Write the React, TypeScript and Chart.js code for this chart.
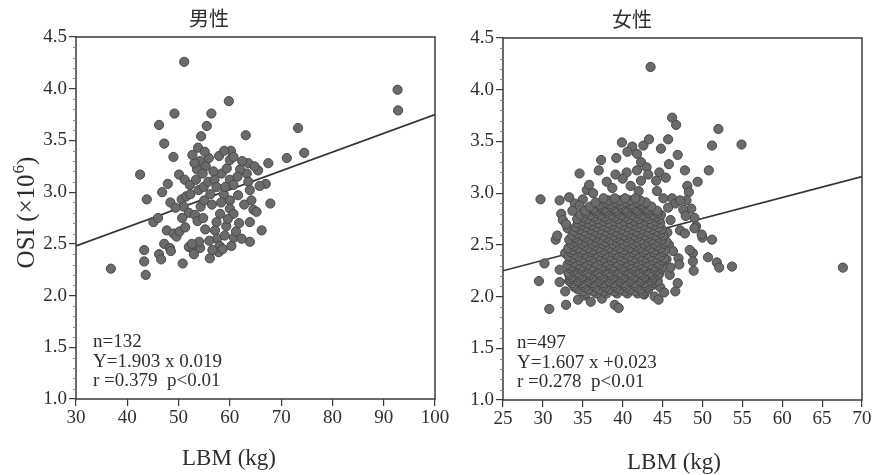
import React, { useEffect, useRef } from "react";
import { Chart, registerables } from "chart.js";
Chart.register(...registerables);

// ---------- data ----------
const titles = ["男性", "女性"];
const xAxisLabel = "LBM (kg)";
const yAxisLabelMain = "OSI (×10";
const yAxisLabelSup = "6";
const yRange = [1.0, 4.5];
const yStep = 0.5;
const menXRange = [30, 100];
const menXStep = 10;
const womenXRange = [25, 70];
const womenXStep = 5;

const menStats = ["n=132", "Y=1.903 x 0.019", "r =0.379  p<0.01"];
const womenStats = ["n=497", "Y=1.607 x +0.023", "r =0.278  p<0.01"];

const menLine: [number, number][] = [[30, 2.48], [100, 3.75]];
const womenLine: [number, number][] = [[25, 2.25], [70, 3.16]];

const menPoints: [number, number][] = [
  [36.8, 2.26], [42.5, 3.17], [43.3, 2.44], [43.3, 2.33], [43.6, 2.2], [43.8, 2.93],
  [45.1, 2.71], [46.0, 2.75], [46.2, 2.4], [46.6, 2.35], [46.2, 3.65], [46.8, 3.0],
  [47.2, 3.47], [47.2, 2.5], [47.7, 2.63], [48.3, 2.46], [48.5, 2.43], [49.0, 2.6],
  [49.6, 2.57], [49.0, 3.34], [49.2, 3.76], [50.1, 3.17], [50.8, 2.31], [51.1, 4.26],
  [51.2, 3.12], [52.2, 3.07], [50.6, 2.93], [51.5, 2.96], [52.3, 2.98], [51.0, 2.86],
  [52.0, 2.8], [53.2, 2.78], [54.3, 2.86], [53.7, 2.72], [54.8, 2.75], [55.0, 2.92],
  [53.9, 3.02], [54.9, 3.05], [55.8, 3.1], [53.6, 3.22], [54.2, 3.3], [55.3, 3.25],
  [54.7, 3.18], [53.1, 3.28], [55.9, 3.33], [52.0, 2.47], [52.9, 2.44], [53.5, 2.49],
  [54.2, 2.46], [53.0, 2.4], [54.0, 2.52], [52.6, 2.5], [56.1, 2.36], [55.2, 2.64],
  [53.8, 3.43], [55.1, 3.39], [54.4, 3.54], [55.5, 3.64], [56.4, 3.76], [59.8, 3.88],
  [60.2, 3.4], [58.4, 3.18], [59.4, 3.23], [60.0, 3.31], [60.7, 3.34], [60.0, 3.12],
  [60.7, 3.07], [61.6, 2.97], [60.0, 2.92], [60.0, 2.84], [60.7, 2.79], [58.1, 2.79],
  [57.4, 2.71], [57.1, 2.63], [63.1, 3.55], [63.6, 3.28], [63.3, 3.18], [63.6, 3.1],
  [63.9, 3.02], [64.2, 2.92], [64.6, 2.83], [65.2, 2.81], [63.9, 2.71], [65.5, 3.21],
  [66.2, 2.63], [63.9, 2.52], [67.5, 3.28], [67.0, 3.08], [67.9, 2.89], [71.1, 3.33],
  [73.3, 3.62], [74.5, 3.38], [92.7, 3.99], [92.8, 3.79], [57.5, 2.55], [58.0, 2.48],
  [57.8, 2.42], [58.6, 2.45], [59.0, 2.58], [60.3, 2.48], [60.8, 2.56], [61.2, 2.62],
  [59.3, 2.67], [56.6, 2.44], [57.0, 3.12], [56.8, 3.2], [57.4, 3.05], [56.2, 2.98],
  [56.5, 2.88], [58.8, 2.98], [59.1, 3.05], [58.3, 2.9], [62.0, 3.22], [62.4, 3.3],
  [61.8, 2.7], [62.8, 2.88], [57.9, 3.35], [58.9, 3.4], [61.5, 3.15], [50.2, 2.62],
  [51.3, 2.66], [50.7, 2.75], [48.4, 2.9], [49.4, 2.85], [47.9, 3.08], [53.4, 3.12],
  [52.7, 3.36], [64.8, 3.25], [65.8, 3.06], [62.3, 2.55], [59.6, 2.74], [56.0, 2.53],
];

const womenOuterPoints: [number, number][] = [
  // sparse upper points
  [43.5, 4.22], [46.2, 3.73], [46.7, 3.66], [52.0, 3.62], [54.9, 3.47], [51.2, 3.46],
  [39.9, 3.49], [41.2, 3.45], [40.6, 3.4], [41.8, 3.38], [42.6, 3.46], [43.3, 3.52],
  [45.7, 3.52], [44.8, 3.43], [46.9, 3.37], [39.2, 3.34], [37.3, 3.32], [42.3, 3.3],
  [43.0, 3.25], [50.8, 3.22], [47.8, 3.22], [45.8, 3.28], [34.6, 3.19], [37.0, 3.22],
  [40.5, 3.2], [41.8, 3.22], [43.2, 3.18], [44.6, 3.2], [45.4, 3.15], [44.2, 3.12],
  [49.4, 3.11], [48.1, 3.07], [48.3, 3.01], [29.7, 2.94], [32.1, 2.93], [35.5, 3.03],
  [38.0, 3.11], [36.3, 3.0], [38.7, 3.05], [41.0, 3.07], [42.0, 3.02], [40.0, 3.14],
  [39.1, 3.18], [42.3, 3.12], [34.0, 2.9], [35.0, 2.94], [33.3, 2.96], [35.8, 3.08],
  [44.3, 3.02], [45.1, 2.95], [46.2, 2.95], [46.6, 2.9],
  // edges
  [32.3, 2.8], [32.5, 2.74], [33.7, 2.83], [34.6, 2.88], [31.6, 2.55], [31.8, 2.59],
  [30.2, 2.32], [29.5, 2.15], [30.8, 1.88], [32.9, 1.92], [34.4, 1.97], [36.0, 1.95],
  [37.4, 1.98], [39.0, 1.92], [39.5, 1.89], [42.7, 2.02], [44.0, 2.0], [44.5, 1.97],
  [44.7, 2.09], [45.2, 2.04], [45.9, 2.21], [46.6, 2.05], [46.9, 2.13], [47.0, 2.37],
  [47.1, 2.31], [48.9, 2.25], [48.8, 2.42], [48.8, 2.34], [50.0, 2.57], [51.2, 2.55],
  [50.7, 2.38], [51.8, 2.33], [52.1, 2.28], [53.7, 2.29], [67.6, 2.28], [32.1, 2.26],
  [32.1, 2.14], [32.8, 2.05], [32.8, 2.42], [48.0, 2.93], [48.6, 2.85], [49.0, 2.76],
  [49.2, 2.68], [49.9, 2.6], [48.4, 2.45], [35.2, 2.01], [47.2, 2.93], [47.6, 2.84],
  [47.9, 2.78], [47.2, 2.64], [47.8, 2.61], [49.0, 2.66], [45.6, 2.62], [46.0, 2.74],
  [45.8, 2.5], [46.3, 2.44], [45.5, 2.36], [46.0, 2.28], [45.7, 2.86], [33.1, 2.66],
  [32.9, 2.7],
];

const womenCorePoints: [number, number][] = [
  [35.4, 2.03], [36.7, 2.03], [38.0, 2.03], [39.3, 2.03], [40.6, 2.03], [41.9, 2.03], [42.6, 2.03],
  [35.0, 2.05], [36.4, 2.05], [37.7, 2.05], [39.0, 2.05], [40.3, 2.05], [41.6, 2.05], [42.8, 2.05],
  [34.4, 2.07], [35.7, 2.07], [37.0, 2.07], [38.3, 2.07], [39.6, 2.07], [40.9, 2.07], [42.2, 2.07], [43.2, 2.07],
  [34.0, 2.09], [35.3, 2.09], [36.6, 2.09], [37.9, 2.09], [39.2, 2.09], [40.5, 2.09], [41.8, 2.09], [43.1, 2.09],
  [33.8, 2.11], [35.0, 2.11], [36.3, 2.11], [37.6, 2.11], [38.9, 2.11], [40.2, 2.11], [41.5, 2.11], [42.8, 2.11], [43.7, 2.11],
  [33.6, 2.13], [34.9, 2.13], [36.2, 2.13], [37.5, 2.13], [38.8, 2.13], [40.1, 2.13], [41.4, 2.13], [42.7, 2.13], [43.9, 2.13],
  [33.3, 2.15], [34.5, 2.15], [35.8, 2.15], [37.1, 2.15], [38.4, 2.15], [39.7, 2.15], [41.0, 2.15], [42.3, 2.15], [43.6, 2.15], [44.4, 2.15],
  [33.4, 2.17], [34.7, 2.17], [36.0, 2.17], [37.3, 2.17], [38.6, 2.17], [39.9, 2.17], [41.2, 2.17], [42.5, 2.17], [43.8, 2.17],
  [33.6, 2.19], [34.9, 2.19], [36.2, 2.19], [37.5, 2.19], [38.8, 2.19], [40.1, 2.19], [41.4, 2.19], [42.7, 2.19], [43.9, 2.19],
  [33.3, 2.21], [34.6, 2.21], [35.9, 2.21], [37.2, 2.21], [38.5, 2.21], [39.8, 2.21], [41.1, 2.21], [42.4, 2.21], [43.7, 2.21], [44.5, 2.21],
  [33.2, 2.23], [34.4, 2.23], [35.7, 2.23], [37.0, 2.23], [38.3, 2.23], [39.6, 2.23], [40.9, 2.23], [42.2, 2.23], [43.5, 2.23], [44.6, 2.23],
  [33.8, 2.25], [35.1, 2.25], [36.4, 2.25], [37.7, 2.25], [39.0, 2.25], [40.3, 2.25], [41.6, 2.25], [42.9, 2.25], [44.2, 2.25],
  [33.5, 2.27], [34.8, 2.27], [36.1, 2.27], [37.4, 2.27], [38.7, 2.27], [40.0, 2.27], [41.3, 2.27], [42.6, 2.27], [43.9, 2.27], [44.9, 2.27],
  [33.6, 2.29], [34.9, 2.29], [36.2, 2.29], [37.5, 2.29], [38.8, 2.29], [40.1, 2.29], [41.4, 2.29], [42.7, 2.29], [44.0, 2.29], [45.0, 2.29],
  [33.1, 2.31], [34.3, 2.31], [35.6, 2.31], [36.9, 2.31], [38.2, 2.31], [39.5, 2.31], [40.8, 2.31], [42.1, 2.31], [43.4, 2.31], [44.6, 2.31],
  [33.9, 2.33], [35.2, 2.33], [36.5, 2.33], [37.8, 2.33], [39.1, 2.33], [40.4, 2.33], [41.7, 2.33], [43.0, 2.33], [44.3, 2.33],
  [33.4, 2.35], [34.7, 2.35], [36.0, 2.35], [37.3, 2.35], [38.6, 2.35], [39.9, 2.35], [41.2, 2.35], [42.5, 2.35], [43.8, 2.35], [45.0, 2.35],
  [33.7, 2.37], [35.0, 2.37], [36.3, 2.37], [37.6, 2.37], [38.9, 2.37], [40.2, 2.37], [41.5, 2.37], [42.8, 2.37], [44.1, 2.37], [45.2, 2.37],
  [33.2, 2.39], [34.4, 2.39], [35.7, 2.39], [37.0, 2.39], [38.3, 2.39], [39.6, 2.39], [40.9, 2.39], [42.2, 2.39], [43.5, 2.39], [44.7, 2.39],
  [33.9, 2.41], [35.2, 2.41], [36.5, 2.41], [37.8, 2.41], [39.1, 2.41], [40.4, 2.41], [41.7, 2.41], [43.0, 2.41], [44.3, 2.41],
  [33.5, 2.43], [34.8, 2.43], [36.1, 2.43], [37.4, 2.43], [38.7, 2.43], [40.0, 2.43], [41.3, 2.43], [42.6, 2.43], [43.9, 2.43], [45.1, 2.43],
  [33.7, 2.45], [35.0, 2.45], [36.3, 2.45], [37.6, 2.45], [38.9, 2.45], [40.2, 2.45], [41.5, 2.45], [42.8, 2.45], [44.1, 2.45], [45.3, 2.45],
  [33.2, 2.47], [34.4, 2.47], [35.7, 2.47], [37.0, 2.47], [38.3, 2.47], [39.6, 2.47], [40.9, 2.47], [42.2, 2.47], [43.5, 2.47], [44.8, 2.47],
  [33.9, 2.49], [35.2, 2.49], [36.5, 2.49], [37.8, 2.49], [39.1, 2.49], [40.4, 2.49], [41.7, 2.49], [43.0, 2.49], [44.3, 2.49],
  [33.6, 2.51], [34.9, 2.51], [36.2, 2.51], [37.5, 2.51], [38.8, 2.51], [40.1, 2.51], [41.4, 2.51], [42.7, 2.51], [44.0, 2.51], [45.2, 2.51],
  [34.0, 2.53], [35.3, 2.53], [36.6, 2.53], [37.9, 2.53], [39.2, 2.53], [40.5, 2.53], [41.8, 2.53], [43.1, 2.53], [44.4, 2.53], [45.5, 2.53],
  [33.3, 2.55], [34.5, 2.55], [35.8, 2.55], [37.1, 2.55], [38.4, 2.55], [39.7, 2.55], [41.0, 2.55], [42.3, 2.55], [43.6, 2.55], [44.9, 2.55],
  [34.0, 2.57], [35.3, 2.57], [36.6, 2.57], [37.9, 2.57], [39.2, 2.57], [40.5, 2.57], [41.8, 2.57], [43.1, 2.57], [44.4, 2.57],
  [33.7, 2.59], [35.0, 2.59], [36.3, 2.59], [37.6, 2.59], [38.9, 2.59], [40.2, 2.59], [41.5, 2.59], [42.8, 2.59], [44.1, 2.59], [45.1, 2.59],
  [34.3, 2.61], [35.6, 2.61], [36.9, 2.61], [38.2, 2.61], [39.5, 2.61], [40.8, 2.61], [42.1, 2.61], [43.4, 2.61], [44.7, 2.61],
  [33.9, 2.63], [35.2, 2.63], [36.5, 2.63], [37.8, 2.63], [39.1, 2.63], [40.4, 2.63], [41.7, 2.63], [43.0, 2.63], [44.3, 2.63],
  [34.6, 2.65], [35.9, 2.65], [37.2, 2.65], [38.5, 2.65], [39.8, 2.65], [41.1, 2.65], [42.4, 2.65], [43.7, 2.65], [44.9, 2.65],
  [34.1, 2.67], [35.4, 2.67], [36.7, 2.67], [38.0, 2.67], [39.3, 2.67], [40.6, 2.67], [41.9, 2.67], [43.2, 2.67], [44.5, 2.67],
  [34.8, 2.69], [36.1, 2.69], [37.4, 2.69], [38.7, 2.69], [40.0, 2.69], [41.3, 2.69], [42.6, 2.69], [43.9, 2.69],
  [34.4, 2.71], [35.7, 2.71], [37.0, 2.71], [38.3, 2.71], [39.6, 2.71], [40.9, 2.71], [42.2, 2.71], [43.5, 2.71], [44.7, 2.71],
  [35.0, 2.73], [36.3, 2.73], [37.6, 2.73], [38.9, 2.73], [40.2, 2.73], [41.5, 2.73], [42.8, 2.73], [44.1, 2.73],
  [34.3, 2.75], [35.5, 2.75], [36.8, 2.75], [38.1, 2.75], [39.4, 2.75], [40.7, 2.75], [42.0, 2.75], [43.3, 2.75], [44.6, 2.75],
  [35.1, 2.77], [36.4, 2.77], [37.7, 2.77], [39.0, 2.77], [40.3, 2.77], [41.6, 2.77], [42.9, 2.77], [44.2, 2.77],
  [34.7, 2.79], [36.0, 2.79], [37.3, 2.79], [38.6, 2.79], [39.9, 2.79], [41.2, 2.79], [42.5, 2.79], [43.8, 2.79], [44.8, 2.79],
  [35.4, 2.81], [36.7, 2.81], [38.0, 2.81], [39.3, 2.81], [40.6, 2.81], [41.9, 2.81], [43.2, 2.81], [44.4, 2.81],
  [35.3, 2.83], [36.6, 2.83], [37.9, 2.83], [39.2, 2.83], [40.5, 2.83], [41.8, 2.83], [43.1, 2.83], [44.3, 2.83],
  [36.4, 2.85], [37.7, 2.85], [39.0, 2.85], [40.3, 2.85], [41.6, 2.85], [42.9, 2.85],
  [35.9, 2.87], [37.2, 2.87], [38.5, 2.87], [39.8, 2.87], [41.1, 2.87], [42.4, 2.87], [43.6, 2.87],
  [37.1, 2.89], [38.4, 2.89], [39.7, 2.89], [41.0, 2.89], [42.3, 2.89],
  [36.6, 2.91], [37.9, 2.91], [39.2, 2.91], [40.5, 2.91], [41.8, 2.91], [42.9, 2.91],
  [38.2, 2.93], [39.6, 2.93], [40.9, 2.93], [42.2, 2.93],
  [37.6, 2.95], [39.0, 2.95], [40.3, 2.95], [41.6, 2.95],
];

// ---------- chart ----------
type Panel = {
  points: [number, number][];
  line: [number, number][];
  xRange: number[];
  xStep: number;
  title: string;
  stats: string[];
  showYLabel: boolean;
  left: number;
  width: number;
  yAxisWidth: number;
  padTop: number;
  padRight: number;
  xAxisHeight: number;
  titleX: number;
  titleY: number;
  statsX: number;
  statsY: number;
  xLabelX: number;
  xLabelY: number;
};

const HEIGHT = 475;
const SERIF = "'Liberation Serif', 'Times New Roman', serif";
const INK = "#2e2e2e";

function buildChart(canvas: HTMLCanvasElement, p: Panel) {
  const overlay = {
    id: "overlay",
    afterDatasetsDraw(chart: any) {
      const { ctx, chartArea: a, scales } = chart;
      ctx.save();
      ctx.strokeStyle = "#3a3a3a";
      ctx.lineWidth = 1.5;
      ctx.strokeRect(a.left, a.top, a.right - a.left, a.bottom - a.top);
      ctx.lineWidth = 1;
      ctx.strokeStyle = "#888";
      for (let i = 10; i <= 45; i++) {
        if (i % 5 === 0) continue;
        const y = Math.round(scales.y.getPixelForValue(i / 10)) + 0.5;
        ctx.beginPath();
        ctx.moveTo(a.left - 3, y);
        ctx.lineTo(a.left, y);
        ctx.stroke();
      }
      ctx.restore();
    },
    afterDraw(chart: any) {
      const ctx = chart.ctx;
      ctx.save();
      ctx.fillStyle = INK;
      // title
      ctx.font = "20px 'Noto Sans CJK JP', 'Noto Sans CJK SC', sans-serif";
      ctx.textAlign = "center";
      ctx.textBaseline = "middle";
      ctx.fillText(p.title, p.titleX, p.titleY);
      // x label
      ctx.font = `23px ${SERIF}`;
      ctx.textBaseline = "alphabetic";
      ctx.fillText(xAxisLabel, p.xLabelX, p.xLabelY);
      // stats
      ctx.font = `19px ${SERIF}`;
      ctx.textAlign = "left";
      p.stats.forEach((s, i) => ctx.fillText(s, p.statsX, p.statsY + i * 19.7));
      // y label
      if (p.showYLabel) {
        ctx.translate(34, 213);
        ctx.rotate(-Math.PI / 2);
        const big = `25px ${SERIF}`;
        const small = `17px ${SERIF}`;
        ctx.font = big;
        const w1 = ctx.measureText(yAxisLabelMain).width;
        const w3 = ctx.measureText(")").width;
        ctx.font = small;
        const w2 = ctx.measureText(yAxisLabelSup).width;
        let x = -(w1 + w2 + w3) / 2;
        ctx.font = big;
        ctx.fillText(yAxisLabelMain, x, 0);
        x += w1;
        ctx.font = small;
        ctx.fillText(yAxisLabelSup, x + 1, -10);
        x += w2 + 1;
        ctx.font = big;
        ctx.fillText(")", x, 0);
      }
      ctx.restore();
    },
  };

  const tickFont = { family: SERIF, size: 19 };
  return new Chart(canvas, {
    type: "scatter",
    data: {
      datasets: [
        {
          label: "points",
          data: p.points.map(([x, y]) => ({ x, y })),
          backgroundColor: "#6b6b6b",
          borderColor: "#474747",
          borderWidth: 1,
          pointRadius: 4.6,
          order: 1,
        },
        {
          label: "fit",
          data: p.line.map(([x, y]) => ({ x, y })),
          showLine: true,
          borderColor: "#333",
          borderWidth: 1.6,
          pointRadius: 0,
          order: 2,
        },
      ],
    },
    options: {
      animation: false,
      responsive: false,
      devicePixelRatio: 1,
      layout: { padding: { top: p.padTop, right: p.padRight, left: 0, bottom: 0 } },
      plugins: { legend: { display: false }, tooltip: { enabled: false }, title: { display: false } },
      scales: {
        x: {
          type: "linear",
          min: p.xRange[0],
          max: p.xRange[1],
          afterFit: (s: any) => {
            s.height = p.xAxisHeight;
          },
          ticks: {
            stepSize: p.xStep,
            autoSkip: false,
            maxRotation: 0,
            font: tickFont,
            color: INK,
            padding: 1,
          },
          grid: {
            display: true,
            drawOnChartArea: false,
            drawTicks: true,
            tickLength: 7,
            color: "#3a3a3a",
            lineWidth: 1.2,
          },
          border: { display: false },
        },
        y: {
          type: "linear",
          min: yRange[0],
          max: yRange[1],
          afterFit: (s: any) => {
            s.width = p.yAxisWidth;
          },
          ticks: {
            stepSize: yStep,
            font: tickFont,
            color: INK,
            padding: 2,
            callback: (v: any) => Number(v).toFixed(1),
          },
          grid: {
            display: true,
            drawOnChartArea: false,
            drawTicks: true,
            tickLength: 7,
            color: "#3a3a3a",
            lineWidth: 1.2,
          },
          border: { display: false },
        },
      },
    },
    plugins: [overlay],
  } as any);
}

const panels: Panel[] = [
  {
    points: menPoints,
    line: menLine,
    xRange: menXRange,
    xStep: menXStep,
    title: titles[0],
    stats: menStats,
    showYLabel: true,
    left: 0,
    width: 460,
    yAxisWidth: 76,
    padTop: 37,
    padRight: 25,
    xAxisHeight: 76,
    titleX: 209,
    titleY: 18,
    statsX: 93,
    statsY: 347,
    xLabelX: 229,
    xLabelY: 465,
  },
  {
    points: [...womenOuterPoints, ...womenCorePoints],
    line: womenLine,
    xRange: womenXRange,
    xStep: womenXStep,
    title: titles[1],
    stats: womenStats,
    showYLabel: false,
    left: 440,
    width: 436,
    yAxisWidth: 63,
    padTop: 38,
    padRight: 14,
    xAxisHeight: 75,
    titleX: 192,
    titleY: 19,
    statsX: 77,
    statsY: 348,
    xLabelX: 234,
    xLabelY: 469,
  },
];

function PanelCanvas({ panel }: { panel: Panel }) {
  const ref = useRef<HTMLCanvasElement | null>(null);
  useEffect(() => {
    if (!ref.current) return;
    const chart = buildChart(ref.current, panel);
    return () => chart.destroy();
  }, [panel]);
  return (
    <canvas
      ref={ref}
      width={panel.width}
      height={HEIGHT}
      style={{ position: "absolute", left: panel.left, top: 0, width: panel.width, height: HEIGHT }}
    />
  );
}

export default function App() {
  return (
    <div style={{ position: "fixed", left: 0, top: 0, width: 876, height: HEIGHT, background: "#fff", overflow: "hidden" }}>
      {panels.map((p, i) => (
        <PanelCanvas key={i} panel={p} />
      ))}
    </div>
  );
}
